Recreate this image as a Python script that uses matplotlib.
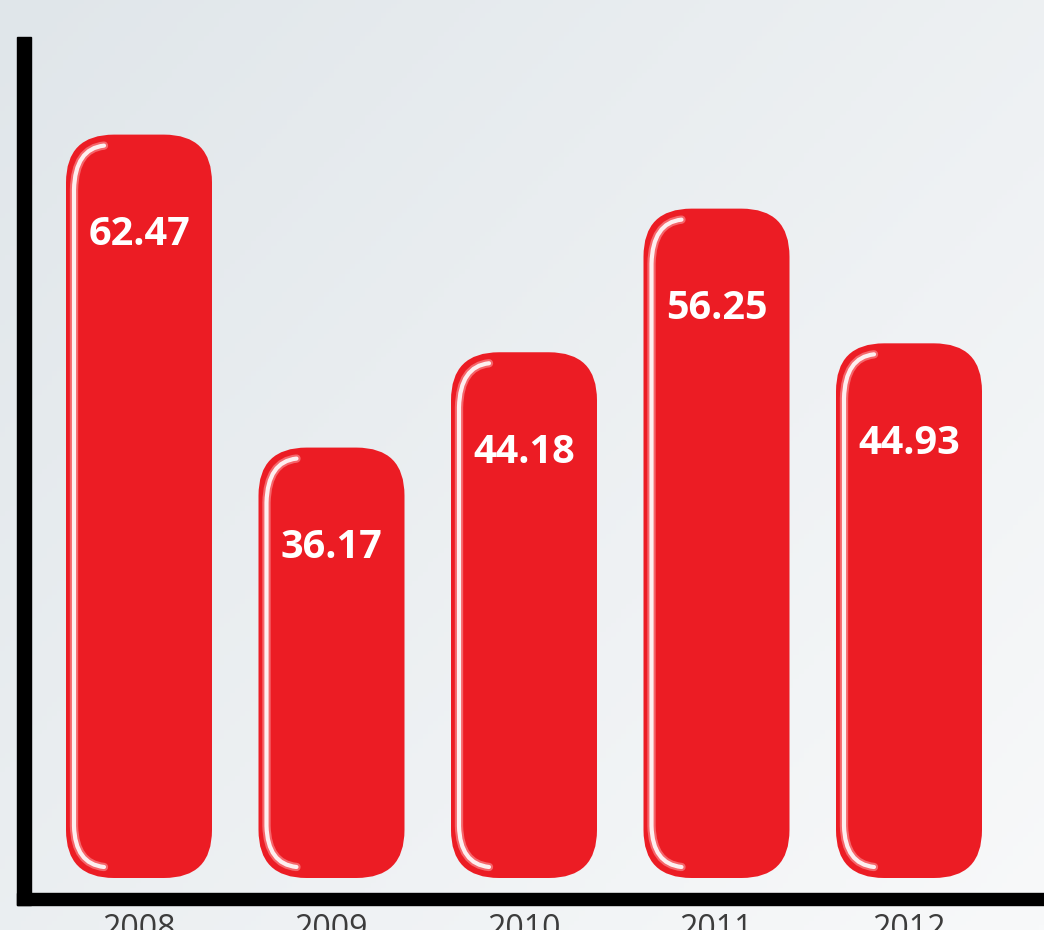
import numpy as np
import matplotlib
matplotlib.use("Agg")
import matplotlib.pyplot as plt
from matplotlib.patches import FancyBboxPatch, Rectangle, PathPatch
from matplotlib.path import Path

years = ["2008", "2009", "2010", "2011", "2012"]
values = [62.47, 36.17, 44.18, 56.25, 44.93]
value_labels = ["62.47", "36.17", "44.18", "56.25", "44.93"]

W, H = 1044, 930
fig = plt.figure(figsize=(W / 100, H / 100), dpi=100)

# background gradient
bg = fig.add_axes([0, 0, 1, 1], zorder=-5)
gx, gy = np.meshgrid(np.linspace(0, 1, 200), np.linspace(0, 1, 200))
t = np.clip(0.55 * gx + 0.45 * gy, 0, 1)
c0 = np.array([224, 230, 234]) / 255
c1 = np.array([248, 249, 250]) / 255
img = c0[None, None, :] * (1 - t[..., None]) + c1[None, None, :] * t[..., None]
bg.imshow(img, aspect="auto", extent=[0, 1, 0, 1], origin="upper")
bg.set_axis_off()

base_px = 878
px_per_unit = 11.9
x0_px, step_px = 139, 192.5
ax = fig.add_axes([0, (H - base_px) / H, 1, base_px / H])
ax.set_xlim(-x0_px / step_px, (W - x0_px) / step_px)
ax.set_ylim(0, base_px / px_per_unit)
ax.set_axis_off()
ax.patch.set_alpha(0)

bar_w = 146 / step_px
r_px = 48
mut = step_px / px_per_unit
red = "#EC1C24"

fig.canvas.draw()
inv = ax.transData.inverted()

def px2data(px, py):
    return inv.transform((px, H - py))

for i, (v, lab) in enumerate(zip(values, value_labels)):
    p = FancyBboxPatch((i - bar_w / 2, 0), bar_w, v,
                       boxstyle=f"round,pad=0,rounding_size={r_px / step_px}",
                       mutation_aspect=mut, facecolor=red, edgecolor="none", zorder=2)
    ax.add_patch(p)
    disp_l = ax.transData.transform((i - bar_w / 2, v))
    disp_b = ax.transData.transform((i - bar_w / 2, 0))
    xl = disp_l[0]
    yt = H - disp_l[1]
    yb = H - disp_b[1]
    pts_px = [(xl + 38, yt + 11), (xl + 9, yt + 14), (xl + 8, yt + 55),
              (xl + 8, yb - 52),
              (xl + 9, yb - 14), (xl + 38, yb - 11)]
    pts = [px2data(*q) for q in pts_px]
    codes = [Path.MOVETO, Path.CURVE3, Path.CURVE3, Path.LINETO, Path.CURVE3, Path.CURVE3]
    # soft glow + core highlight
    ax.add_patch(PathPatch(Path(pts, codes), facecolor="none", edgecolor="#ffb0b3",
                           lw=6, alpha=0.5, zorder=3, capstyle="round"))
    ax.add_patch(PathPatch(Path(pts, codes), facecolor="none", edgecolor="white",
                           lw=3, alpha=0.9, zorder=3, capstyle="round"))
    ax.text(i, v - 100 / px_per_unit, lab, ha="center", va="center", color="white",
            fontsize=28.5, fontweight="bold", family="Open Sans", zorder=4)

# axis lines (black)
fig.add_artist(Rectangle((17 / W, (H - 905) / H), 14 / W, (905 - 37) / H,
                         transform=fig.transFigure, color="black", zorder=10))
fig.add_artist(Rectangle((17 / W, (H - 905) / H), (W - 17) / W, 12 / H,
                         transform=fig.transFigure, color="black", zorder=10))

for i, y in enumerate(years):
    xd = ax.transData.transform((i, 0))[0]
    fig.text(xd / W, (H - 913) / H, y, ha="center", va="top", fontsize=23,
             family="Open Sans", color="#3c3c3c")

fig.savefig("out.png", dpi=100)
